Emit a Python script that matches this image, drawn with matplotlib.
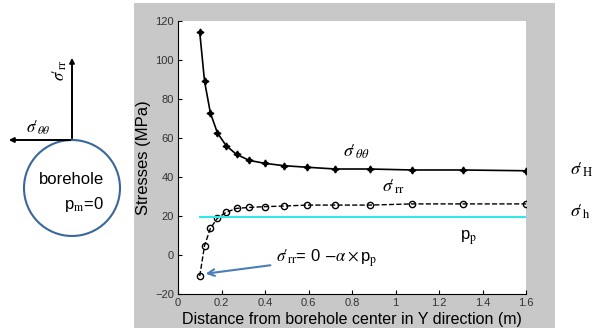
import numpy as np
import matplotlib
matplotlib.use("Agg")
import matplotlib.pyplot as plt
from matplotlib.patches import Circle, Rectangle

plt.rcParams['font.family'] = ['Liberation Sans', 'DejaVu Sans']
plt.rcParams['mathtext.fontset'] = 'stix'

# distance from borehole centre (m)
r = [0.1, 0.122, 0.149, 0.181, 0.221, 0.269, 0.328, 0.4, 0.487, 0.594,
     0.724, 0.883, 1.076, 1.31, 1.6]
# effective hoop stress (MPa)
s_tt = [114.2, 89.1, 72.8, 62.7, 56.1, 51.6, 48.5, 47.0, 45.8, 45.0,
        44.1, 44.1, 43.6, 43.6, 43.2]
# effective radial stress (MPa)
s_rr = [-10.8, 4.8, 13.7, 18.8, 21.9, 23.9, 24.4, 24.8, 25.1, 25.6,
        25.6, 25.6, 26.2, 26.2, 26.2]
pp = 19.5
pp_x = [0.1, 1.6]

# sigma-prime labels
S_TT = r"$\sigma\!\prime_{\theta\theta}$"
S_RR = r"$\sigma\!\prime_{\rm rr}$"
S_H = r"$\sigma\!\prime_{\rm H}$"
S_h = r"$\sigma\!\prime_{\rm h}$"

W, H = 595, 331
fig = plt.figure(figsize=(W/100, H/100), dpi=100)

# background layer in pixel coords
bg = fig.add_axes([0, 0, 1, 1])
bg.set_xlim(0, W)
bg.set_ylim(H, 0)
bg.axis('off')
bg.add_patch(Rectangle((134, 3), 421, 325, color='#c8c8c8', lw=0))

# borehole sketch
bg.add_patch(Circle((72, 188), 48, fill=False, ec='#3a679b', lw=1.5))
bg.annotate('', xy=(72, 55), xytext=(72, 141),
            arrowprops=dict(arrowstyle='-|>', color='k', lw=1.4, mutation_scale=7))
bg.annotate('', xy=(6, 140), xytext=(73, 140),
            arrowprops=dict(arrowstyle='-|>', color='k', lw=1.4, mutation_scale=7))
bg.text(60, 70, S_RR, rotation=90, fontsize=12, ha='center', va='center')
bg.text(38, 128, S_TT, fontsize=12, ha='center', va='center')
bg.text(71, 180, 'borehole', fontsize=12, ha='center', va='center')
bg.text(84, 204, r'p$_{\rm m}$=0', fontsize=12, ha='center', va='center')

# right side labels
bg.text(570, 170, S_H, fontsize=13, ha='left', va='center')
bg.text(570, 212, S_h, fontsize=13, ha='left', va='center')

ax = fig.add_axes([178/W, 1-294/H, 348/W, 273/H])
ax.set_facecolor('white')
ax.plot(r, s_tt, '-', color='k', lw=1.2, marker=(4, 1, 0), ms=5)
ax.plot(r, s_rr, '--', color='k', lw=1.0, marker='o', ms=4.5, mfc='none', mew=1.0)
ax.plot(pp_x, [pp, pp], color='#33e8e8', lw=1.5)

ax.set_xlim(0, 1.6)
ax.set_ylim(-20, 120)
ax.set_xticks(np.arange(0, 1.61, 0.2))
ax.set_xticklabels(['0', '0.2', '0.4', '0.6', '0.8', '1', '1.2', '1.4', '1.6'])
ax.set_yticks(range(-20, 121, 20))
ax.tick_params(direction='in', labelsize=8, length=3, labelcolor='#333333', pad=3)
for s in ['top', 'right']:
    ax.spines[s].set_visible(False)
ax.set_xlabel('Distance from borehole center in Y direction (m)', fontsize=11.5, labelpad=3)
ax.set_ylabel('Stresses (MPa)', fontsize=12, labelpad=3)

ax.text(0.82, 53, S_TT, fontsize=13, ha='center', va='center')
ax.text(0.99, 35, S_RR, fontsize=13, ha='center', va='center')
ax.text(1.335, 9, r'p$_{\rm p}$', fontsize=12, ha='center', va='center')
ax.annotate(S_RR + r"= 0 $-\alpha\times$p$_{\rm p}$", xy=(0.127, -9.6),
            xytext=(0.45, -1.5), fontsize=12, va='center', ha='left',
            arrowprops=dict(arrowstyle='->', color='#4a7ebb', lw=1.5, shrinkA=2, shrinkB=0))

fig.savefig('out.png', dpi=100)
